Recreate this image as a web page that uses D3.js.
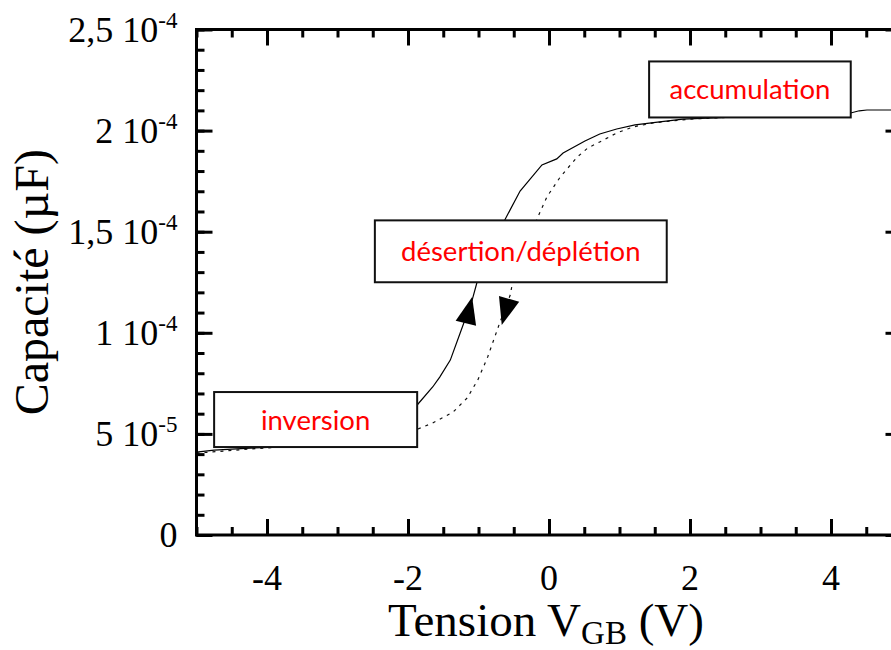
<!DOCTYPE html>
<html>
<head>
<meta charset="utf-8">
<script src="https://cdn.jsdelivr.net/npm/d3@7"></script>
<style>
  body { margin: 0; background: #fff; }
  svg { display: block; }
  .axis path, .axis line { stroke: #000; stroke-width: 3; }
</style>
</head>
<body>
<div id="chart"></div>
<script>
// forward sweep (solid), capacitance in uF
const sweepUpV = [-5, -4.75, -4.24, -3.9, -3, -2.5, -2.2, -2, -1.87, -1.65, -1.55, -1.4, -1.26, -1.09, -1.02,
  -0.62, -0.41, -0.1, 0.11, 0.2, 0.51, 0.72, 0.96, 1.22, 1.57, 1.9, 2.5, 3, 3.5, 4, 4.28, 4.4, 4.51, 5];
const sweepUpC = [41.0, 42.0, 43.0, 43.5, 44.5, 47, 52, 58, 64.3, 73.2, 78.1, 86.5, 99.9, 116.2, 125.1,
  156.3, 170.1, 183.0, 186.0, 188.9, 194.9, 198.3, 200.8, 202.8, 204.3, 205.7, 206.5, 206.8, 207, 207.5, 208.7, 209.8, 210.2, 210.2]
  .map(d => d * 1e-6);

// reverse sweep (dotted)
const sweepDownV = [-5, -4.24, -3.82, -3, -2.5, -2.1, -1.79, -1.65, -1.36, -1.16, -1.01, -0.87, -0.77, -0.7, -0.55, -0.51,
  -0.17, -0.03, 0.16, 0.4, 0.55, 0.72, 0.96, 1.19, 1.48, 1.72, 2, 2.5, 3, 3.5, 4];
const sweepDownC = [40.5, 42.5, 43.5, 44, 45.5, 49, 53.4, 55.4, 60.8, 67.8, 76.7, 88.0, 97.9, 104.8, 118.7, 126.1,
  156.3, 167.2, 177.1, 186.9, 191.4, 194.4, 198.8, 201.8, 203.8, 204.7, 205.7, 206.5, 206.8, 207, 207.5]
  .map(d => d * 1e-6);

// axis ticks
const xMajor = [-4, -2, 0, 2, 4];
const xMajorLabels = ["-4", "-2", "0", "2", "4"];
const xMinor = d3.range(-5, 5.01, 0.5);
const yMajor = [0, 5e-5, 1e-4, 1.5e-4, 2e-4, 2.5e-4];
const yMantissa = ["0", "5 10", "1 10", "1,5 10", "2 10", "2,5 10"];
const yExponent = ["", "-5", "-4", "-4", "-4", "-4"];
const yMinor = d3.range(0, 2.5e-4 + 1e-9, 1e-5);

// annotation boxes (data coords) and their labels
const boxLabels = ["inversion", "désertion/déplétion", "accumulation"];
const boxX0 = [-4.75, -2.47, 1.42];
const boxX1 = [-1.87, 1.67, 4.28];
const boxYTop = [70.7e-6, 155.6e-6, 234.2e-6];
const boxYBot = [43.5e-6, 125e-6, 206.5e-6];

// arrows: tip and tail along the curves
const arrowTipV = [-1.09, -0.67];
const arrowTipC = [117.7e-6, 103.9e-6];
const arrowTailV = [-1.18, -0.56];
const arrowTailC = [104.6e-6, 117.5e-6];

const W = 891, H = 650;
const margin = {top: 29.5, left: 196.5};
const width = 705, height = 505.5;

const x = d3.scaleLinear().domain([-5, 5]).range([0, width]);
const y = d3.scaleLinear().domain([0, 2.5e-4]).range([height, 0]);

const svg = d3.select("#chart").append("svg")
    .attr("width", W).attr("height", H);

const g = svg.append("g")
    .attr("transform", `translate(${margin.left},${margin.top})`);

g.append("clipPath").attr("id", "clip")
  .append("rect").attr("width", width).attr("height", height);

const line = d3.line().x(d => x(d[0])).y(d => y(d[1]));

const plot = g.append("g").attr("clip-path", "url(#clip)");

plot.append("path")
    .datum(sweepDownV.map((v, i) => [v, sweepDownC[i]]))
    .attr("fill", "none")
    .attr("stroke", "#111")
    .attr("stroke-width", 1.2)
    .attr("stroke-dasharray", "3,5")
    .attr("d", line);

plot.append("path")
    .datum(sweepUpV.map((v, i) => [v, sweepUpC[i]]))
    .attr("fill", "none")
    .attr("stroke", "#000")
    .attr("stroke-width", 1.2)
    .attr("d", line);

// arrows
arrowTipV.forEach((v, i) => {
  const tx = x(v), ty = y(arrowTipC[i]);
  const bx = x(arrowTailV[i]), by = y(arrowTailC[i]);
  const len = Math.hypot(tx - bx, ty - by);
  const ux = (tx - bx) / len, uy = (ty - by) / len;
  const L = 27, hw = 10.5;
  const cx = tx - ux * L, cy = ty - uy * L;
  const pts = [[tx, ty], [cx - uy * hw, cy + ux * hw], [cx + uy * hw, cy - ux * hw]];
  g.append("path")
      .attr("d", "M" + pts.join("L") + "Z")
      .attr("fill", "#000");
});

// annotation boxes
boxLabels.forEach((t, i) => {
  const x0 = x(boxX0[i]), x1 = x(boxX1[i]);
  const y0 = y(boxYTop[i]), y1 = y(boxYBot[i]);
  g.append("rect")
      .attr("x", x0).attr("y", y0)
      .attr("width", x1 - x0).attr("height", y1 - y0)
      .attr("fill", "#fff")
      .attr("stroke", "#111")
      .attr("stroke-width", 2);
  g.append("text")
      .attr("x", (x0 + x1) / 2)
      .attr("y", (y0 + y1) / 2 + 10)
      .attr("text-anchor", "middle")
      .attr("font-family", "Lato, 'Open Sans', sans-serif")
      .attr("font-size", 27.5)
      .attr("fill", "#ff0000")
      .text(t);
});

// axes: major/minor ticks on all four sides, pointing inward
function ticks(axis, vals, size, transform) {
  const a = g.append("g").attr("class", "axis")
      .attr("transform", transform)
      .call(axis.tickValues(vals).tickSize(size).tickSizeOuter(0).tickFormat(""));
  a.select(".domain").remove();
  return a;
}
ticks(d3.axisLeft(y), yMinor, -8, "translate(0,0)");
ticks(d3.axisLeft(y), yMajor, -16, "translate(0,0)");
ticks(d3.axisRight(y), yMinor, -8, `translate(${width},0)`);
ticks(d3.axisRight(y), yMajor, -16, `translate(${width},0)`);
ticks(d3.axisBottom(x), xMinor, -8, `translate(0,${height})`);
ticks(d3.axisBottom(x), xMajor, -16, `translate(0,${height})`);
ticks(d3.axisTop(x), xMinor, -8, "translate(0,0)");
ticks(d3.axisTop(x), xMajor, -16, "translate(0,0)");

g.append("rect")
    .attr("width", width).attr("height", height)
    .attr("fill", "none")
    .attr("stroke", "#000")
    .attr("stroke-width", 3);

// tick labels
const serif = "'Liberation Serif', 'Times New Roman', serif";
xMajor.forEach((v, i) => {
  g.append("text")
      .attr("x", x(v)).attr("y", height + 55)
      .attr("text-anchor", "middle")
      .attr("font-family", serif).attr("font-size", 36)
      .text(xMajorLabels[i]);
});

yMajor.forEach((v, i) => {
  const t = g.append("text")
      .attr("x", -19).attr("y", y(v) + 12)
      .attr("text-anchor", "end")
      .attr("font-family", serif).attr("font-size", 36);
  t.append("tspan").text(yMantissa[i]);
  if (yExponent[i]) {
    t.append("tspan").attr("dy", -14).attr("font-size", 23).text(yExponent[i]);
  }
});

// axis titles
const xt = svg.append("text")
    .attr("x", margin.left + width / 2 - 3).attr("y", 636)
    .attr("text-anchor", "middle")
    .attr("font-family", serif).attr("font-size", 47);
xt.append("tspan").text("Tension V");
xt.append("tspan").attr("dy", 8).attr("font-size", 33).text("GB");
xt.append("tspan").attr("dy", -8).text(" (V)");

svg.append("text")
    .attr("transform", `translate(48,${margin.top + height / 2}) rotate(-90)`)
    .attr("text-anchor", "middle")
    .attr("font-family", serif).attr("font-size", 48)
    .text("Capacité (µF)");
</script>
</body>
</html>
